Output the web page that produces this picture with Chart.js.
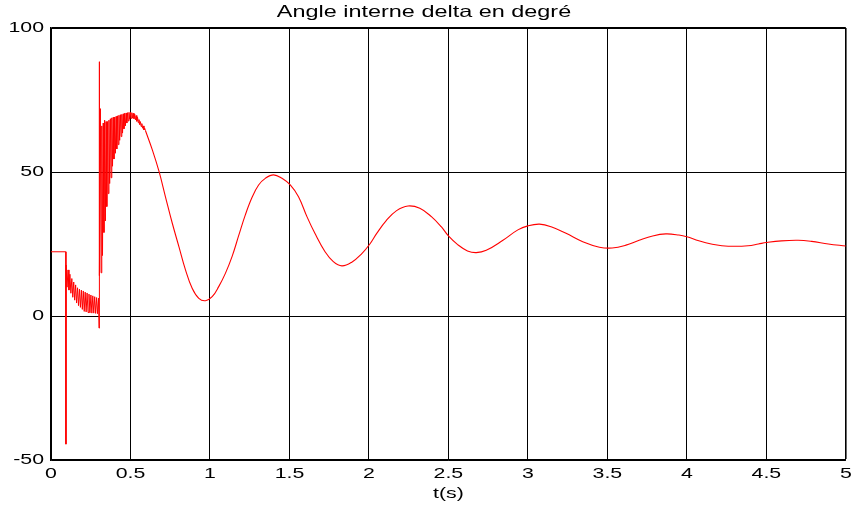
<!DOCTYPE html>
<html>
<head>
<meta charset="utf-8">
<title>Angle interne delta en degré</title>
<script src="https://cdn.jsdelivr.net/npm/chart.js@4.4.1/dist/chart.umd.min.js"></script>
<style>
  html, body { margin: 0; padding: 0; background: #ffffff; }
  #wrap { width: 855px; height: 506px; }
</style>
</head>
<body>
<div id="wrap"><canvas id="chart" width="855" height="506"></canvas></div>
<script>
// Internal (load) angle delta in degrees versus time in seconds.

// Steady state before the fault, then the fault instant
const preFaultTime  = [0, 0.093, 0.094, 0.095];
const preFaultDelta = [22.3, 22.3, -44.5, 17.7];

// Fault-on interval: fast oscillation decaying towards zero
const faultTime  = [0.101, 0.107, 0.113, 0.119, 0.125, 0.131, 0.137, 0.143, 0.149, 0.155,
                    0.161, 0.167, 0.173, 0.179, 0.185, 0.191, 0.197, 0.203, 0.209, 0.215,
                    0.221, 0.227, 0.233, 0.239, 0.245, 0.251, 0.257, 0.263, 0.269, 0.275,
                    0.281, 0.287, 0.293, 0.299, 0.302, 0.303];
const faultDelta = [10, 16, 9, 14.5, 7.9, 13, 6.5, 11.8, 5.5, 10.8,
                    4.5, 9.8, 3.6, 9.3, 3, 9, 2.3, 8.7, 1.6, 8.3,
                    1.4, 8, 1.2, 7.6, 1.1, 7.3, 1, 7, 1, 6.7,
                    0.9, 6.4, 0.8, 6.2, -4.2, 88.3];

// After clearing: oscillation settling onto the first swing
const clearTime  = [0.3060, 0.3105, 0.3150, 0.3195, 0.3240, 0.3285, 0.3330, 0.3375, 0.3420, 0.3465,
                    0.3510, 0.3555, 0.3600, 0.3645, 0.3690, 0.3735, 0.3780, 0.3825, 0.3870, 0.3915,
                    0.3960, 0.4005, 0.4050, 0.4095, 0.4140, 0.4185, 0.4230, 0.4275, 0.4320, 0.4365,
                    0.4410, 0.4455, 0.4500, 0.4545, 0.4590, 0.4635, 0.4680, 0.4725, 0.4770, 0.4815,
                    0.4860, 0.4905, 0.4950, 0.4995, 0.5040, 0.5085, 0.5130, 0.5175, 0.5220, 0.5265,
                    0.5310, 0.5355, 0.5400, 0.5445, 0.5490, 0.5535, 0.5580, 0.5625, 0.5670, 0.5715,
                    0.5760, 0.5805, 0.5850, 0.5895, 0.5940];
const clearDelta = [14, 72, 15, 66, 21, 67, 29, 68, 33, 67.5,
                    38, 67.5, 42.5, 68, 46, 68.5, 48, 68.8, 52, 69,
                    54.5, 69.1, 56.5, 69.3, 58, 69.5, 59.5, 69.7, 61, 69.9,
                    62.3, 70, 63.5, 70.2, 65, 70.4, 66, 70.5, 67, 70.6,
                    67.7, 70.7, 68.3, 70.7, 68.6, 70.6, 68.7, 70.4, 68.5, 70.1,
                    68.1, 69.6, 67.6, 69, 67.1, 68.2, 66.4, 67.5, 65.8, 66.8,
                    65.2, 66, 64.6, 65.2, 64.4];

// Damped electromechanical swing
const swingTime  = [0.594, 0.638, 0.68, 0.72, 0.763, 0.805, 0.846, 0.888, 0.93, 0.972,
                    1.014, 1.055, 1.097, 1.14, 1.18, 1.223, 1.265, 1.306, 1.348, 1.4,
                    1.453, 1.505, 1.557, 1.61, 1.66, 1.724, 1.776, 1.83, 1.89, 1.954,
                    2.006, 2.048, 2.11, 2.174, 2.246, 2.32, 2.393, 2.455, 2.5, 2.56,
                    2.62, 2.675, 2.738, 2.843, 2.937, 3.0, 3.073, 3.146, 3.24, 3.345,
                    3.45, 3.53, 3.617, 3.7, 3.785, 3.868, 3.95, 4.0, 4.075,
                    4.16, 4.22, 4.3, 4.385, 4.45, 4.5, 4.595, 4.7, 4.785, 4.89, 5.0];
const swingDelta = [64.4, 57.6, 50.1, 41.4, 32.2, 24, 16, 9.6, 6.1, 5.3,
                    6.7, 10.2, 14.8, 20.8, 27.8, 35.2, 41.2, 45.5, 47.8, 49,
                    47.8, 45.5, 41.4, 34.5, 28.7, 22.3, 18.9, 17.4, 18.6, 21.6,
                    25, 28.6, 33.2, 36.6, 38.2, 37.4, 34.5, 31, 27.8, 24.7,
                    22.6, 22, 22.8, 26.3, 29.9, 31.3, 31.9, 31, 28.7, 25.8,
                    23.9, 23.6, 24.6, 26.3, 27.8, 28.5, 28.1, 27.5, 26.1,
                    24.9, 24.4, 24.2, 24.4, 25, 25.5, 26.1, 26.3, 25.9, 25, 24.3];

// Axis ticks
const xTickLabels = ['0', '0.5', '1', '1.5', '2', '2.5', '3', '3.5', '4', '4.5', '5'];
const yTickLabels = ['-50', '0', '50', '100'];

function toPoints(ts, vs) {
  return ts.map((t, i) => ({ x: t, y: vs[i] }));
}

const transientPoints = toPoints(
  preFaultTime.concat(faultTime, clearTime),
  preFaultDelta.concat(faultDelta, clearDelta)
);
const swingPoints = toPoints(swingTime, swingDelta);

const canvas = document.getElementById('chart');
const ctx = canvas.getContext('2d');

// Wide lettering: draw every label horizontally stretched about its anchor
const TEXT_STRETCH = 1.42;
const baseFillText = ctx.fillText.bind(ctx);
ctx.fillText = function (text, x, y) {
  this.save();
  this.translate(x, y);
  this.scale(TEXT_STRETCH, 1);
  baseFillText(text, 0, 0);
  this.restore();
};

const font = "'Liberation Sans', Arial, Helvetica, sans-serif";

new Chart(ctx, {
  type: 'line',
  data: {
    datasets: [
      {
        data: transientPoints,
        borderColor: '#ff0000',
        borderWidth: 1,
        pointRadius: 0,
        tension: 0,
        fill: false
      },
      {
        data: swingPoints,
        borderColor: '#ff0000',
        borderWidth: 1.1,
        pointRadius: 0,
        tension: 0.4,
        fill: false
      }
    ]
  },
  options: {
    responsive: false,
    animation: false,
    devicePixelRatio: 1,
    layout: { padding: { left: 0, right: 7, top: 0, bottom: 0 } },
    plugins: {
      legend: { display: false },
      tooltip: { enabled: false },
      title: {
        display: true,
        text: 'Angle interne delta en degré',
        color: '#000000',
        font: { family: font, size: 16.5, weight: 'normal' },
        padding: { top: 2.5, bottom: 5.7 }
      }
    },
    scales: {
      x: {
        type: 'linear',
        min: 0,
        max: 5,
        afterFit: (s) => { s.height = 46; },
        ticks: {
          stepSize: 0.5,
          maxRotation: 0,
          autoSkip: false,
          padding: 5,
          color: '#000000',
          font: { family: font, size: 15 },
          callback: (v, i) => xTickLabels[i]
        },
        grid: {
          color: '#000000',
          lineWidth: (c) => (c.index === xTickLabels.length - 1 ? 1.6 : 1),
          drawTicks: false
        },
        border: { color: '#000000', width: 1.6 },
        title: {
          display: true,
          text: 't(s)',
          color: '#000000',
          font: { family: font, size: 15 },
          padding: { top: 0, bottom: 3 }
        }
      },
      y: {
        min: -50,
        max: 100,
        afterFit: (s) => { s.width = 51; },
        ticks: {
          stepSize: 50,
          padding: 7,
          color: '#000000',
          font: { family: font, size: 15 },
          callback: (v, i) => yTickLabels[i]
        },
        grid: {
          color: '#000000',
          lineWidth: (c) => (c.index === yTickLabels.length - 1 ? 2 : 1),
          drawTicks: false
        },
        border: { color: '#000000', width: 1.6 }
      }
    }
  }
});
</script>
</body>
</html>
